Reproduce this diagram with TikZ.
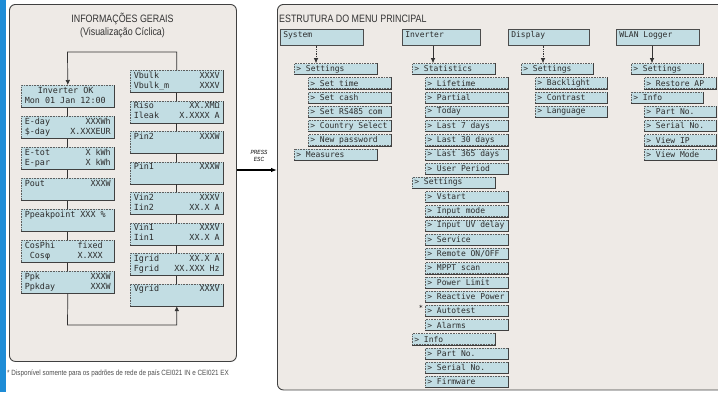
\documentclass[tikz,border=0pt]{standalone}
\usepackage{fontspec}
\setmainfont[FakeStretch=0.83]{Liberation Sans}
\newfontfamily\lcdfont{DejaVu Sans Mono}
\usetikzlibrary{arrows.meta}
\definecolor{panelbg}{HTML}{EEEAE6}
\definecolor{lcdblue}{HTML}{C2DDE3}
\definecolor{lcdedge}{HTML}{5E5E5E}
\definecolor{lcddark}{HTML}{404040}
\definecolor{lcdtext}{HTML}{2C2C2C}
\definecolor{stripblue}{HTML}{1E8CD6}
\newcommand\lrow[2]{\makebox[86pt][l]{#1\hfill#2}}
\newcommand\lb[7]{\node[lbox] (#1) at (#2,#3) {\parbox[c][20pt][t]{86pt}{\strut\lrow{#4}{#5}\\\strut\lrow{#6}{#7}}};}
\newcommand\ia[1]{\makebox[79pt][l]{#1}}
\newcommand\ib[1]{\makebox[68pt][l]{#1}}
\tikzset{
  panel/.style={draw=black!75, line width=0.9pt, fill=panelbg, rounded corners=6pt, inner sep=0pt, anchor=north west},
  shline/.style={draw=lcddark, solid, line width=0.7pt},
  lbox/.style={draw=lcdedge, densely dotted, line width=0.6pt, fill=lcdblue, inner xsep=3.5pt, inner ysep=1pt,
    anchor=north west, font=\lcdfont\fontsize{8.4}{10}\selectfont, text=lcdtext,
    append after command={(\tikzlastnode.south west) edge[shline] (\tikzlastnode.south east)
      (\tikzlastnode.south east) edge[shline] (\tikzlastnode.north east)}},
  itm/.style={draw=lcdedge, densely dotted, line width=0.6pt, fill=lcdblue, inner xsep=2pt, inner ysep=0pt,
    minimum height=11pt, anchor=west, font=\lcdfont\fontsize{8}{9}\selectfont, text=lcdtext,
    append after command={(\tikzlastnode.south west) edge[shline] (\tikzlastnode.south east)
      (\tikzlastnode.south east) edge[shline] (\tikzlastnode.north east)}},
  tbox/.style={draw=black!70, line width=0.7pt, fill=lcdblue, inner xsep=3pt, inner ysep=2pt,
    text height=6pt, text depth=6pt, anchor=north west, font=\lcdfont\fontsize{8}{9}\selectfont, text=lcdtext},
  conn/.style={draw=black!80, line width=0.7pt},
  tip/.style={-{Latex[length=5pt,width=4.5pt]}},
  titlef/.style={inner sep=0pt, text=black!80, font=\fontsize{10.7}{12}\selectfont},
}
\begin{document}
\begin{tikzpicture}[x=1pt,y=-1pt]
\useasboundingbox (0,0) rectangle (718,392);
\fill[stripblue] (0,0) rectangle (5.5,392);
% panels
\node[panel, minimum width=227pt, minimum height=357pt] (lp) at (9,4) {};
\node[panel, minimum width=450pt, minimum height=385.5pt] (rp) at (277,4) {};
% titles
\node[titlef] (lt1) at (122.5,18.5) {INFORMAÇÕES GERAIS};
\node[titlef] (lt2) at (122.5,33) {(Visualização Cíclica)};
\node[titlef, anchor=west] (rt) at (279,19) {ESTRUTURA DO MENU PRINCIPAL};
% left column
\lb{l1}{21}{85}{\hspace*{13pt}Inverter OK}{}{Mon 01 Jan 12:00}{}
\lb{l2}{21}{116}{E-day}{XXXWh}{\$-day}{X.XXXEUR}
\lb{l3}{21}{147}{E-tot}{X kWh}{E-par}{X kWh}
\lb{l4}{21}{178}{Pout}{XXXW}{}{}
\lb{l5}{21}{209}{Ppeakpoint XXX \%}{}{}{}
\lb{l6}{21}{240}{CosPhi}{fixed\hspace*{8pt}}{\ Cosφ}{X.XXX\hspace*{8pt}}
\lb{l7}{21}{271}{Ppk}{XXXW}{Ppkday}{XXXW}
% right column
\lb{r1}{130}{70}{Vbulk}{XXXV}{Vbulk\_m}{XXXV}
\lb{r2}{130}{100.5}{Riso}{XX.XMΩ}{Ileak}{X.XXXX A}
\lb{r3}{130}{131}{Pin2}{XXXW}{}{}
\lb{r4}{130}{161.5}{Pin1}{XXXW}{}{}
\lb{r5}{130}{192}{Vin2}{XXXV}{Iin2}{XX.X A}
\lb{r6}{130}{222.5}{Vin1}{XXXV}{Iin1}{XX.X A}
\lb{r7}{130}{253}{Igrid}{XX.X A}{Fgrid}{XX.XXX Hz}
\lb{r8}{130}{283.5}{Vgrid}{XXXV}{}{}
\foreach \a/\b in {l1/l2,l2/l3,l3/l4,l4/l5,l5/l6,l6/l7,r1/r2,r2/r3,r3/r4,r4/r5,r5/r6,r6/r7,r7/r8}
  \draw[conn] (\a) -- (\b);
\coordinate (loopt) at (67.5,52);
\coordinate (loopb) at (67.5,325);
\draw[conn,tip] (r1.north) |- (loopt) -- (l1.north);
\draw[conn,tip] (l7.south) -- (loopb) -| (r8.south);
% footnote
\node[anchor=west, inner sep=0pt, text=black!70, font=\fontsize{7.6}{8}\selectfont] (fn) at (7,373)
  {* Disponível somente para os padrões de rede de país CEI021 IN e CEI021 EX};
% press esc
\coordinate (escp) at (256,170);
\draw[line width=1.1pt, -{Latex[length=6pt,width=4.5pt]}] (lp.east |- escp) -- (rp.west |- escp);
\node[align=center, inner sep=0pt, font=\itshape\fontsize{6}{6.5}\selectfont] (esct) at (259,156) {PRESS\\ESC};
% top boxes
\node[tbox] (tsys) at (280,29) {\makebox[77pt][l]{System}};
\node[tbox] (tinv) at (402,29) {\makebox[72pt][l]{Inverter}};
\node[tbox] (tdis) at (508,29) {\makebox[75pt][l]{Display}};
\node[tbox] (twl) at (616,29) {\makebox[77pt][l]{WLAN Logger}};
% system
\node[itm] (sset) at (294,69.0) {\ia{> Settings}};
\node[itm] (sst) at (308,83.2) {\ia{> Set time}};
\node[itm] (ssc) at (308,97.4) {\ia{> Set cash}};
\node[itm] (srs) at (308,111.7) {\ia{> Set RS485 com}};
\node[itm] (scs) at (308,125.9) {\ia{> Country Select}};
\node[itm] (snp) at (308,140.1) {\ia{> New password}};
\node[itm] (smea) at (294,154.3) {\ia{> Measures}};
% inverter
\node[itm] (ista) at (412,69.0) {\ia{> Statistics}};
\node[itm] (i1) at (425,83.2) {\ia{> Lifetime}};
\node[itm] (i2) at (425,97.4) {\ia{> Partial}};
\node[itm] (i3) at (425,111.7) {\ia{> Today}};
\node[itm] (i4) at (425,125.9) {\ia{> Last 7 days}};
\node[itm] (i5) at (425,140.1) {\ia{> Last 30 days}};
\node[itm] (i6) at (425,154.3) {\ia{> Last 365 days}};
\node[itm] (i7) at (425,168.5) {\ia{> User Period}};
\node[itm] (iset) at (412,182.8) {\ia{> Settings}};
\node[itm] (i9) at (425,197.0) {\ia{> Vstart}};
\node[itm] (i10) at (425,211.2) {\ia{> Input mode}};
\node[itm] (i11) at (425,225.4) {\ia{> Input UV delay}};
\node[itm] (i12) at (425,239.6) {\ia{> Service}};
\node[itm] (i13) at (425,253.9) {\ia{> Remote ON/OFF}};
\node[itm] (i14) at (425,268.1) {\ia{> MPPT scan}};
\node[itm] (i15) at (425,282.3) {\ia{> Power Limit}};
\node[itm] (i16) at (425,296.5) {\ia{> Reactive Power}};
\node[itm] (i17) at (425,310.7) {\ia{> Autotest}};
\node[itm] (i18) at (425,325.0) {\ia{> Alarms}};
\node[itm] (iinf) at (412,339.2) {\ia{> Info}};
\node[itm] (i20) at (425,353.4) {\ia{> Part No.}};
\node[itm] (i21) at (425,367.6) {\ia{> Serial No.}};
\node[itm] (i22) at (425,381.8) {\ia{> Firmware}};
\node[inner sep=0pt, font=\lcdfont\fontsize{7}{7}\selectfont] (ast) at (421,307.5) {*};
% display
\node[itm] (dset) at (521,69.0) {\ib{> Settings}};
\node[itm] (d1) at (535,83.2) {\ib{> Backlight}};
\node[itm] (d2) at (535,97.4) {\ib{> Contrast}};
\node[itm] (d3) at (535,111.7) {\ib{> Language}};
% wlan
\node[itm] (wset) at (631,69.0) {\ib{> Settings}};
\node[itm] (w1) at (644,83.2) {\ib{> Restore AP}};
\node[itm] (winf) at (631,97.4) {\ib{> Info}};
\node[itm] (w3) at (644,111.7) {\ib{> Part No.}};
\node[itm] (w4) at (644,125.9) {\ib{> Serial No.}};
\node[itm] (w5) at (644,140.1) {\ib{> View IP}};
\node[itm] (w6) at (644,154.3) {\ib{> View Mode}};
% arrows from top boxes
\coordinate (ax1) at (316,0);
\coordinate (ax2) at (433,0);
\coordinate (ax3) at (543,0);
\coordinate (ax4) at (652,0);
\draw[conn, densely dotted, tip] (tsys.south -| ax1) -- (sset.north -| ax1);
\draw[conn, tip] (tinv.south -| ax2) -- (ista.north -| ax2);
\draw[conn, densely dotted, tip] (tdis.south -| ax3) -- (dset.north -| ax3);
\draw[conn, tip] (twl.south -| ax4) -- (wset.north -| ax4);
\end{tikzpicture}
\end{document}
